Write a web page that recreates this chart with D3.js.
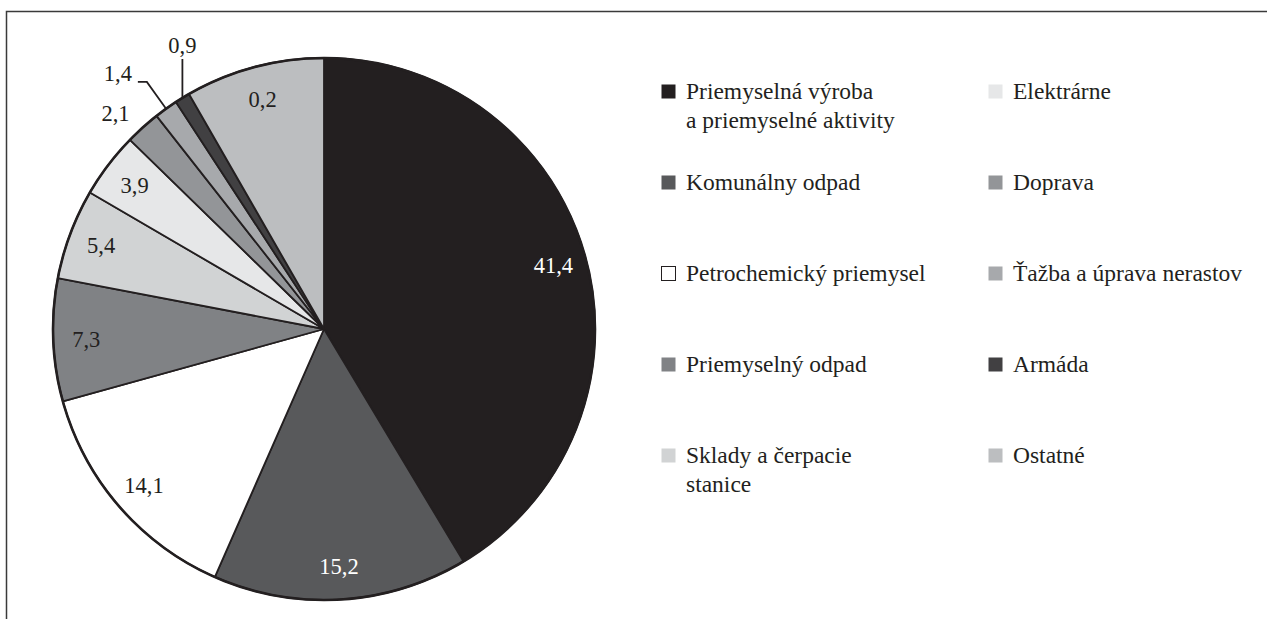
<!DOCTYPE html>
<html>
<head>
<meta charset="utf-8">
<script src="https://cdn.jsdelivr.net/npm/d3@7"></script>
<style>
  html, body { margin: 0; padding: 0; background: #fff; }
  svg text { font-family: "Liberation Serif", "Times New Roman", Times, serif; }
</style>
</head>
<body>
<div class="chart"></div>
<script>
const categories = [
  'Priemyselná výroba|a priemyselné aktivity',
  'Komunálny odpad',
  'Petrochemický priemysel',
  'Priemyselný odpad',
  'Sklady a čerpacie|stanice',
  'Elektrárne',
  'Doprava',
  'Ťažba a úprava nerastov',
  'Armáda',
  'Ostatné',
];
const values = [41.4, 15.2, 14.1, 7.3, 5.4, 3.9, 2.1, 1.4, 0.9, 8.3];
const valueLabels = ['41,4', '15,2', '14,1', '7,3', '5,4', '3,9', '2,1', '1,4', '0,9', '0,2'];
const colors = ['#231f20', '#58595b', '#ffffff', '#808285', '#d1d3d4',
  '#e6e7e8', '#939598', '#a7a9ac', '#414042', '#bcbec0'];

const width = 1267;
const height = 619;
const cx = 324;
const cy = 329;
const radius = 271;

const svg = d3.select('.chart').append('svg')
  .attr('width', width)
  .attr('height', height)
  .attr('font-family', '"Liberation Serif", "Times New Roman", Times, serif');

// frame (top and left only)
svg.append('path')
  .attr('d', `M6.5,${height} V11.5 H${width}`)
  .style('fill', 'none')
  .style('stroke', '#3a3a3a')
  .style('stroke-width', 1.5);

const data = categories.map((name, i) => ({
  name, value: values[i], label: valueLabels[i], color: colors[i], index: i,
}));

const pie = d3.pie().sort(null).value((d) => d.value);
const arcs = pie(data);
const arc = d3.arc().innerRadius(0).outerRadius(radius);
const at = (r) => d3.arc().innerRadius(r).outerRadius(r);

const g = svg.append('g').attr('transform', `translate(${cx},${cy})`);

g.selectAll('.slice')
  .data(arcs)
  .enter().append('path')
  .attr('class', 'slice')
  .attr('d', arc)
  .style('fill', (d) => d.data.color)
  .style('stroke', '#231f20')
  .style('stroke-width', 1.8)
  .style('stroke-linejoin', 'round');

g.append('circle')
  .attr('r', radius)
  .style('fill', 'none')
  .style('stroke', '#231f20')
  .style('stroke-width', 2.6);

// labels: small slices get outside labels
const outside = { 6: 'plain', 7: 'elbow', 8: 'vertical' };
const valueFont = '22.5px';

const inner = arcs.filter((d) => !(d.index in outside));
g.selectAll('.val')
  .data(inner)
  .enter().append('text')
  .attr('class', 'val')
  .attr('transform', (d) => `translate(${at(238).centroid(d)})`)
  .attr('dy', '0.35em')
  .style('text-anchor', 'middle')
  .style('font-size', valueFont)
  .style('fill', (d) => (d.index < 2 ? '#ffffff' : '#231f20'))
  .text((d) => d.data.label);

arcs.filter((d) => d.index in outside).forEach((d) => {
  const type = outside[d.index];
  const edge = at(radius).centroid(d);
  if (type === 'plain') {
    const p = at(300).centroid(d);
    g.append('text')
      .attr('x', p[0] - 8).attr('y', p[1] + 7)
      .attr('dy', '0.35em')
      .style('text-anchor', 'middle')
      .style('font-size', valueFont)
      .style('fill', '#231f20')
      .text(d.data.label);
  } else if (type === 'elbow') {
    const e = at(304).centroid(d);
    g.append('polyline')
      .attr('points', [edge, e, [e[0] - 9, e[1]]].map((p) => p.join(',')).join(' '))
      .style('fill', 'none')
      .style('stroke', '#231f20')
      .style('stroke-width', 1.8);
    g.append('text')
      .attr('x', e[0] - 15).attr('y', e[1] - 1)
      .style('text-anchor', 'end')
      .style('font-size', valueFont)
      .style('fill', '#231f20')
      .text(d.data.label);
  } else {
    const top = 59 - cy;
    g.append('line')
      .attr('x1', edge[0]).attr('y1', edge[1])
      .attr('x2', edge[0]).attr('y2', top)
      .style('stroke', '#231f20')
      .style('stroke-width', 1.8);
    g.append('text')
      .attr('x', edge[0]).attr('y', top - 6)
      .style('text-anchor', 'middle')
      .style('font-size', valueFont)
      .style('fill', '#231f20')
      .text(d.data.label);
  }
});

// legend: two columns of five
const colX = d3.scalePoint().domain([0, 1]).range([661, 988]);
const rowY = d3.scaleLinear().domain([0, 4]).range([99, 463]);

const legend = svg.selectAll('.legend')
  .data(data)
  .enter().append('g')
  .attr('class', 'legend')
  .attr('transform', (d) => `translate(${colX(Math.floor(d.index / 5))},${rowY(d.index % 5)})`);

legend.append('rect')
  .attr('x', 0.5)
  .attr('y', -14.5)
  .attr('width', 14)
  .attr('height', 14)
  .style('fill', (d) => d.color)
  .style('stroke', (d) => (d.color === '#ffffff' ? '#231f20' : 'none'))
  .style('stroke-width', 1);

legend.append('text')
  .attr('x', 25)
  .style('font-size', '23.5px')
  .style('fill', '#231f20')
  .selectAll('tspan')
  .data((d) => d.name.split('|'))
  .enter().append('tspan')
  .attr('x', 25)
  .attr('dy', (t, i) => (i === 0 ? 0 : 29))
  .text((t) => t);
</script>
</body>
</html>
